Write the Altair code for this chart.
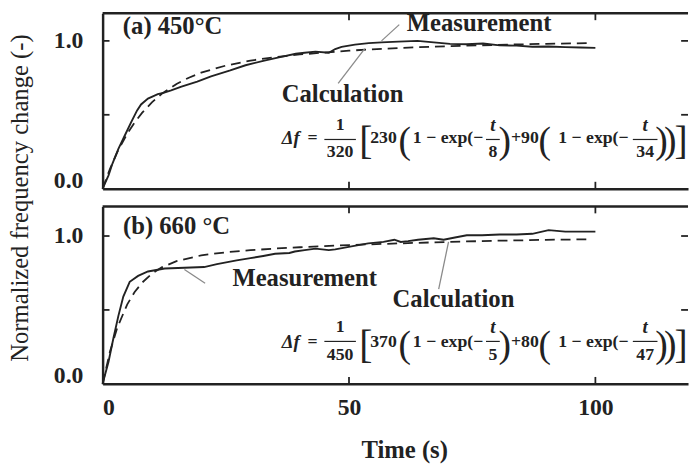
import altair as alt
import pandas as pd

# ---------------- data ----------------
meas_a_t = [0, 1.2, 2, 3.2, 4.5, 5.8, 7, 7.8, 9.2, 10.2, 11.2, 12.5, 13.9, 16, 19.2, 22,
            25.9, 29, 32.6, 36, 39.2, 41, 43.2, 45.9, 47.2, 48.5, 51.2, 54, 56.6, 60, 63.9,
            67.2, 70.5, 73.9, 77.2, 80.6, 84, 87.2, 90.5, 93.9, 97, 100]
meas_a_v = [0, 0.09, 0.17, 0.27, 0.36, 0.45, 0.53, 0.57, 0.61, 0.625, 0.64, 0.65, 0.665, 0.69,
            0.725, 0.76, 0.80, 0.835, 0.865, 0.89, 0.913, 0.92, 0.927, 0.92, 0.945, 0.96, 0.975,
            0.985, 0.99, 0.995, 1.0, 0.99, 0.98, 0.977, 0.982, 0.97, 0.968, 0.96, 0.962, 0.958,
            0.955, 0.953]
calc_a_t = [0, 1.5, 3, 5, 6.5, 8, 10, 12, 15, 17.5, 20, 25, 30, 35, 40, 50, 60, 70, 80, 90, 98.6]
calc_a_v = [0, 0.135, 0.249, 0.373, 0.448, 0.513, 0.584, 0.642, 0.709, 0.751, 0.785, 0.833,
            0.867, 0.890, 0.908, 0.934, 0.952, 0.964, 0.973, 0.980, 0.985]

meas_b_t = [0, 1.2, 2.2, 3.2, 4.2, 5.5, 7.2, 9.2, 12.6, 16.6, 20.6, 23.2, 27.2, 30, 32.6, 35,
            37.9, 39, 41, 43.2, 45.9, 47.2, 50.5, 53.9, 57, 59.2, 60.5, 62, 64, 67.2, 69.2, 71.5,
            73.9, 77, 80.6, 84, 87.2, 90.5, 93.9, 97, 100]
meas_b_v = [0, 0.15, 0.31, 0.46, 0.59, 0.69, 0.73, 0.76, 0.78, 0.785, 0.79, 0.81, 0.835, 0.85,
            0.865, 0.88, 0.885, 0.895, 0.905, 0.915, 0.905, 0.91, 0.93, 0.95, 0.96, 0.975, 0.96,
            0.965, 0.975, 0.985, 0.975, 0.99, 1.005, 1.005, 1.01, 1.01, 1.015, 1.04, 1.03, 1.03,
            1.03]
calc_b_t = [0, 1.5, 3, 5, 6.5, 8, 10, 12, 15, 20, 25, 30, 35, 40, 50, 60, 70, 80, 90, 98.6]
calc_b_v = [0, 0.219, 0.382, 0.538, 0.621, 0.684, 0.745, 0.788, 0.830, 0.869, 0.890, 0.904,
            0.915, 0.924, 0.939, 0.950, 0.960, 0.968, 0.974, 0.978]

x_tick_values = [0, 50, 100]
x_minor_ticks = [50, 100]
y_label_values = [0, 1]
y_minor_ticks = [0.5, 1.0]

panel_tags = ["(a) 450°C", "(b) 660 °C"]
eq_denominators = ["320", "450"]
eq_coef1 = ["230", "370"]
eq_coef2 = ["+90", "+80"]
eq_tau1 = ["8", "5"]
eq_tau2 = ["34", "47"]

# annotation anchors (data units: seconds, normalized change)
tag_pos = [(14.2, 1.10), (15.0, 1.067)]
meas_label_pos = [(76.4, 1.12), (41.0, 0.713)]
calc_label_pos = [(48.7, 0.64), (71.2, 0.573)]
meas_leader = [(56.6, 1.0, 60.2, 1.11), (16.6, 0.773, 20.8, 0.68)]
calc_leader = [(53.2, 0.947, 47.8, 0.713), (70.2, 0.96, 68.2, 0.64)]
# equation rows: (row, numerator, denominator, bar, big brackets)
eq_rows = [dict(row=0.34, num=0.433, den=0.247, bar=0.333, big=0.315),
           dict(row=0.28, num=0.387, den=0.193, bar=0.287, big=0.255)]

# ---------------- styling ----------------
W = 594
HEIGHTS = [178, 180]
PX_PER_UNIT = 150.0
XMAX = 118.8
FONT = "Liberation Serif"
INK = "#222222"
GRAY = "#8a8a8a"
TICK = 7

xs = alt.Scale(domain=[0, XMAX], nice=False, zero=False)


def panel(i, bottom):
    H = HEIGHTS[i]
    ys = alt.Scale(domain=[0, H / PX_PER_UNIT], nice=False, zero=False)
    meas = pd.DataFrame({"t": [meas_a_t, meas_b_t][i], "v": [meas_a_v, meas_b_v][i]})
    calc = pd.DataFrame({"t": [calc_a_t, calc_b_t][i], "v": [calc_a_v, calc_b_v][i]})

    if bottom:
        xaxis = alt.Axis(values=x_tick_values, format="d", labelFont=FONT, labelFontSize=24,
                         labelFontWeight="bold", labelColor=INK, labelPadding=12, ticks=False,
                         grid=False, domainColor=INK, domainWidth=2.5,
                         titleFont=FONT, titleFontSize=25, titleFontWeight="bold",
                         titleColor=INK, titleX=306, titleY=67, titleBaseline="middle")
        xtitle = "Time (s)"
    else:
        xaxis = alt.Axis(labels=False, ticks=False, grid=False, domainColor=INK, domainWidth=2.5)
        xtitle = ""

    ykw = dict(values=y_label_values, format=".1f", labelFont=FONT, labelFontSize=24,
               labelFontWeight="bold", labelColor=INK, labelPadding=20, ticks=False, grid=False,
               labelFlush=True, labelFlushOffset=4,
               domainColor=INK, domainWidth=2.5)
    if i == 0:
        yaxis = alt.Axis(titleFont=FONT, titleFontSize=25, titleFontWeight="normal",
                         titleColor=INK, titleAngle=270, titleX=-96, titleY=187,
                         titleAlign="center", titleBaseline="top", **ykw)
        ytitle = "Normalized frequency change (-)"
    else:
        yaxis = alt.Axis(**ykw)
        ytitle = ""

    X = alt.X("t:Q", scale=xs, axis=xaxis, title=xtitle)
    Y = alt.Y("v:Q", scale=ys, axis=yaxis, title=ytitle)

    def text_layer(df, size, weight="bold", style="normal"):
        return alt.Chart(df).mark_text(
            font=FONT, fontSize=size, fontWeight=weight, fontStyle=style,
            color=INK, align="center", baseline="middle"
        ).encode(x=X, y=Y, text="label:N")

    base_line = alt.Chart(meas).mark_line(color=INK, strokeWidth=1.9).encode(x=X, y=Y)
    calc_line = alt.Chart(calc).mark_line(color=INK, strokeWidth=1.8,
                                          strokeDash=[10, 6]).encode(x=X, y=Y)

    # frame: top border and inward ticks
    one = pd.DataFrame({"k": [0]})
    top_border = alt.Chart(one).mark_rule(color=INK, strokeWidth=2.5).encode(
        x=alt.value(0), x2=alt.value(W), y=alt.value(0))
    yt = pd.DataFrame({"v": y_minor_ticks})
    xt = pd.DataFrame({"t": x_minor_ticks})
    left_ticks = alt.Chart(yt).mark_rule(color=INK, strokeWidth=1.8).encode(
        x=alt.value(0), x2=alt.value(TICK), y=Y)
    right_ticks = alt.Chart(yt).mark_rule(color=INK, strokeWidth=1.8).encode(
        x=alt.value(W - TICK), x2=alt.value(W), y=Y)
    bottom_ticks = alt.Chart(xt).mark_rule(color=INK, strokeWidth=1.8).encode(
        x=X, y=alt.value(H), y2=alt.value(H - TICK))
    top_ticks = alt.Chart(xt).mark_rule(color=INK, strokeWidth=1.8).encode(
        x=X, y=alt.value(0), y2=alt.value(TICK))

    # leader lines
    lead = pd.DataFrame([meas_leader[i], calc_leader[i]], columns=["t", "v", "t2", "v2"])
    leaders = alt.Chart(lead).mark_rule(color=GRAY, strokeWidth=1.3).encode(
        x=X, x2="t2:Q", y=Y, y2="v2:Q")

    labels = pd.DataFrame({
        "t": [tag_pos[i][0], meas_label_pos[i][0], calc_label_pos[i][0]],
        "v": [tag_pos[i][1], meas_label_pos[i][1], calc_label_pos[i][1]],
        "label": [panel_tags[i], "Measurement", "Calculation"],
    })

    r = eq_rows[i]
    eq_plain = pd.DataFrame([
        (42.6, r["row"], "="),
        (48.2, r["num"], "1"),
        (48.2, r["den"], eq_denominators[i]),
        (57.0, r["row"], eq_coef1[i]),
        (70.1, r["row"], "1 − exp(−"),
        (79.2, r["den"], eq_tau1[i]),
        (85.7, r["row"], eq_coef2[i]),
        (99.6, r["row"], "1 − exp(−"),
        (110.1, r["den"], eq_tau2[i]),
    ], columns=["t", "v", "label"])
    eq_italic = pd.DataFrame([
        (38.2, r["row"], "Δf"),
        (79.2, r["num"], "t"),
        (110.1, r["num"], "t"),
    ], columns=["t", "v", "label"])
    eq_paren = pd.DataFrame([
        (61.3, r["big"], "("),
        (81.6, r["big"], ")"),
        (89.7, r["big"], "("),
        (113.4, r["big"], ")"),
        (115.2, r["big"], ")"),
    ], columns=["t", "v", "label"])
    eq_brack = pd.DataFrame([
        (53.4, r["big"], "["),
        (117.4, r["big"], "]"),
    ], columns=["t", "v", "label"])
    bars = pd.DataFrame([(45.0, 51.4), (77.8, 80.6), (107.6, 112.6)], columns=["t", "t2"])
    bars["v"] = r["bar"]
    bar_layer = alt.Chart(bars).mark_rule(color=INK, strokeWidth=1.2).encode(
        x=X, x2="t2:Q", y=Y)

    return alt.layer(
        base_line, calc_line, top_border, left_ticks, right_ticks, bottom_ticks, top_ticks,
        leaders, text_layer(labels, 25),
        text_layer(eq_plain, 18), text_layer(eq_italic, 19, style="italic"),
        text_layer(eq_paren, 38, weight="normal"), text_layer(eq_brack, 40, weight="normal"),
        bar_layer,
    ).properties(width=W, height=H)


chart = alt.vconcat(panel(0, False), panel(1, True), spacing=18, bounds="flush").properties(
    padding=0, background="white"
).configure_view(strokeWidth=0).configure_axis(labelFont=FONT, titleFont=FONT)

chart.save("out.html", embed_options={"renderer": "svg", "actions": False})
